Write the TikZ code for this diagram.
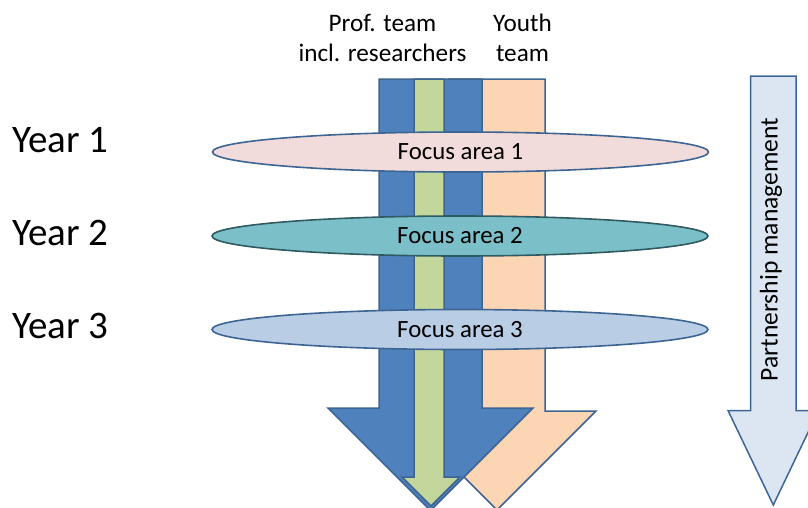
\documentclass[tikz,border=0pt]{standalone}
\usepackage{fontspec}
\setmainfont{Carlito}
\usepackage{tikz}
\usetikzlibrary {
  shapes.geometric,
  positioning,
}
\definecolor{shaftblue}{HTML}{4F81BD}
\definecolor{shaftgreen}{HTML}{C3D69B}
\definecolor{shaftpeach}{HTML}{FCD5B5}
\definecolor{pmblue}{HTML}{DCE6F2}
\definecolor{edgeblue}{HTML}{3D6593}
\definecolor{areapink}{HTML}{F2DCDB}
\definecolor{areateal}{HTML}{7BC0C8}
\definecolor{areaedge}{HTML}{2F5A60}
\definecolor{arealilac}{HTML}{B9CDE5}
\tikzset{
  stream/.style = {
    draw = edgeblue,
    line width = 1.5pt,
    line join = miter,
    fill = #1
  },
  focus/.style = {
    ellipse,
    draw = edgeblue,
    line width = 1.6pt,
    fill = #1,
    minimum width = 496pt,
    minimum height = 40pt,
    inner sep = 0pt,
    font = \fontsize{24.8}{28}\selectfont
  },
  year/.style = {
    anchor = base west,
    inner sep = 0pt,
    font = \fontsize{39}{44}\selectfont
  },
  team/.style = {
    align = center,
    inner sep = 0pt,
    font = \fontsize{25.2}{30.5}\selectfont
  },
}

\begin{document}
\begin{tikzpicture}[x = 1pt, y = -1pt]
  \useasboundingbox (0,0) rectangle (808,507);
  % team streams
  \draw[stream = shaftpeach] (449,79) -- (545,79) -- (545,411) -- (596,411)
    -- (497,510) -- (398,411) -- (449,411) -- cycle;
  \draw[stream = shaftblue] (379,79) -- (482,79) -- (482,408) -- (533,408)
    -- (430.5,510.5) -- (328,408) -- (379,408) -- cycle;
  \draw[stream = shaftgreen] (414,79) -- (444,79) -- (444,477) -- (460,477)
    -- (431,506) -- (402,477) -- (414,477) -- cycle;
  % partnership management
  \draw[stream = pmblue] (750.5,76) -- (796,76) -- (796,410.5) -- (818.5,410.5)
    -- (773.3,505) -- (728,410.5) -- (750.5,410.5) -- cycle;
  \node[team, rotate = 90, font = \fontsize{25.6}{30}\selectfont] (pm) at (771,249.5) {Partnership management};
  % labels
  \node[team] (prof) at (382.5,38) {Prof. team\\incl. researchers};
  \node[team] (youth) at (522.5,38) {Youth\\team};
  % focus areas
  \node[focus = areapink] (fa1) at (460.5,152) {Focus area 1};
  \node[focus = areateal, draw = areaedge] (fa2) at (460,236) {Focus area 2};
  \node[focus = arealilac] (fa3) at (460,329.5) {Focus area 3};
  \node[year] (y1) at (12,152) {Year 1};
  \node[year] (y2) at (12,245) {Year 2};
  \node[year] (y3) at (12,338) {Year 3};
\end{tikzpicture}
\end{document}
